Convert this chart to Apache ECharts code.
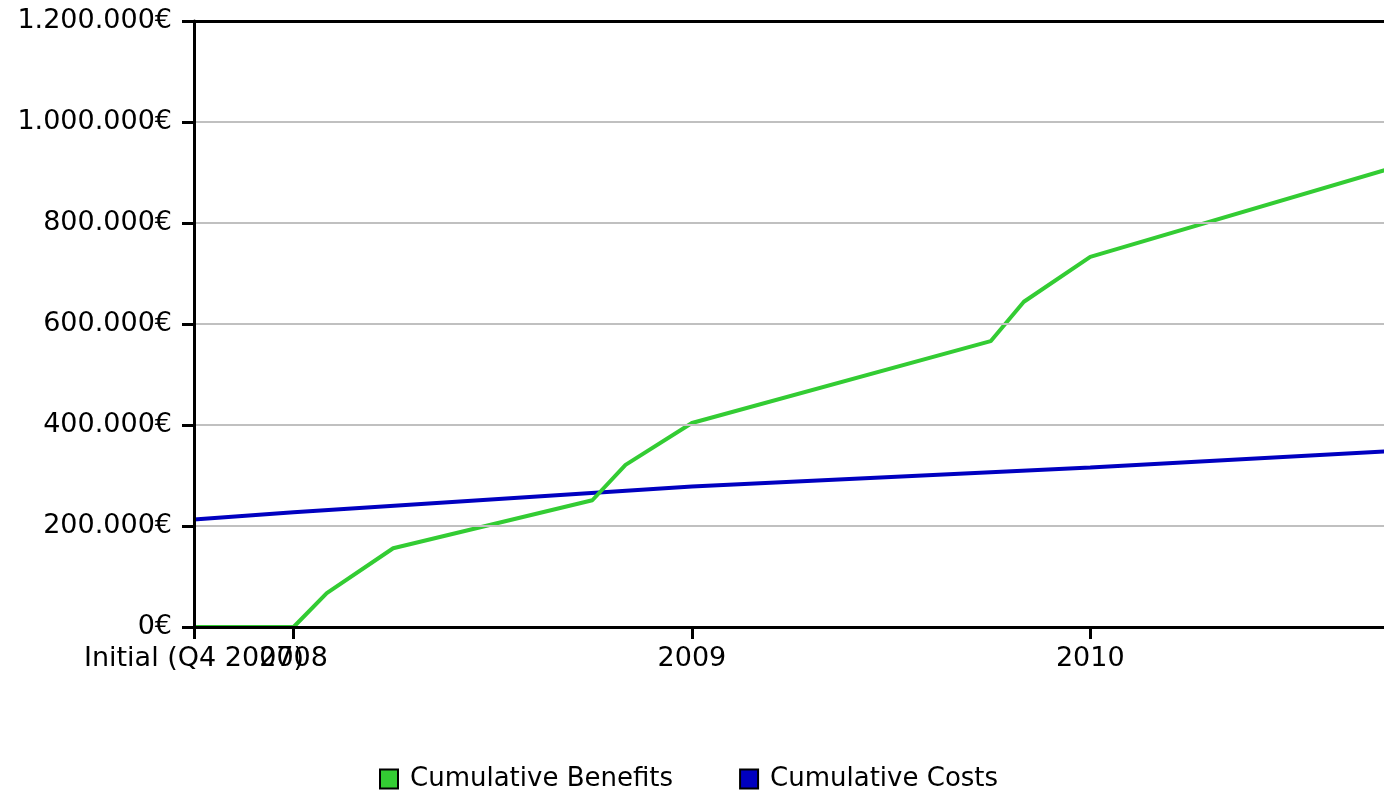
<!DOCTYPE html>
<html>
<head>
<meta charset="utf-8">
<title>Cumulative Benefits vs Costs</title>
<script src="https://cdn.jsdelivr.net/npm/echarts@6/dist/echarts.min.js"></script>
<style>
  html, body { margin: 0; padding: 0; background: #ffffff; }
  #chart { width: 1384px; height: 790px; }
</style>
</head>
<body>
<div id="chart"></div>
<script>
// Months counted from the initial period (Q4 2007 = 0, Jan 2008 = 3)
const benefitMonths = [0, 3, 4, 6, 12, 13, 15, 24, 25, 27, 36];
const benefitValues = [0, 0, 67000, 156000, 251000, 321000, 404000, 566000, 644000, 733000, 907000];

const costMonths = [0, 3, 15, 27, 36];
const costValues = [213000, 227000, 278000, 316000, 348000];

// Labelled positions on the time axis
const initialMonth = [0];
const initialLabel = ['Initial (Q4 2007)'];
const yearMonths = [3, 15, 27];
const yearLabels = ['2008', '2009', '2010'];

const seriesNames = ['Cumulative Benefits', 'Cumulative Costs'];

const pair = (xs, ys) => xs.map((x, i) => [x, ys[i]]);

function euro(v) {
  return String(Math.round(v)).replace(/\B(?=(\d{3})+(?!\d))/g, '.') + '€';
}

const FONT = 'DejaVu Sans';
const FONT_SIZE = 27;

function labelAxis(values, labels, showLine) {
  return {
    type: 'value',
    position: 'bottom',
    min: 0,
    max: 36,
    axisLine: { show: showLine, onZero: false, lineStyle: { color: '#000000', width: 3 } },
    axisTick: {
      show: true,
      customValues: values,
      length: 12,
      lineStyle: { color: '#000000', width: 3 }
    },
    axisLabel: {
      customValues: values,
      showMinLabel: true,
      showMaxLabel: true,
      hideOverlap: false,
      margin: 18,
      fontFamily: FONT,
      fontSize: FONT_SIZE,
      color: '#000000',
      formatter: (v) => {
        const i = values.indexOf(v);
        return i >= 0 ? labels[i] : '';
      }
    },
    splitLine: { show: false },
    z: 5
  };
}

const chart = echarts.init(document.getElementById('chart'), null, { renderer: 'canvas' });

chart.setOption({
  animation: false,
  backgroundColor: '#ffffff',
  textStyle: { fontFamily: FONT },
  // plot area runs a few pixels past the right edge of the canvas
  grid: {
    left: 194,
    top: 21,
    width: 1195,
    bottom: 163,
    show: false,
    outerBoundsMode: 'none'
  },
  legend: {
    bottom: -7,
    left: 374,
    icon: 'rect',
    itemWidth: 18,
    itemHeight: 19,
    itemGap: 66,
    itemStyle: { borderColor: '#000000', borderWidth: 2 },
    textStyle: {
      fontFamily: FONT,
      fontSize: 26,
      color: '#000000',
      padding: [0, 0, 0, 7]
    },
    data: seriesNames
  },
  xAxis: [
    labelAxis(yearMonths, yearLabels, true),
    labelAxis(initialMonth, initialLabel, false),
    {
      // top border of the plot
      type: 'value',
      position: 'top',
      min: 0,
      max: 36,
      axisLine: { show: true, onZero: false, lineStyle: { color: '#000000', width: 3 } },
      axisTick: { show: false },
      axisLabel: { show: false },
      splitLine: { show: false },
      z: 5
    }
  ],
  yAxis: {
    type: 'value',
    min: 0,
    max: 1200000,
    interval: 200000,
    axisLine: { show: true, lineStyle: { color: '#000000', width: 3 } },
    axisTick: { show: true, length: 12, lineStyle: { color: '#000000', width: 3 } },
    axisLabel: {
      margin: 22,
      fontFamily: FONT,
      fontSize: FONT_SIZE,
      color: '#000000',
      formatter: euro
    },
    splitLine: { show: true, lineStyle: { color: '#c0c0c0', width: 2 } },
    z: 5
  },
  series: [
    {
      name: seriesNames[0],
      type: 'line',
      data: pair(benefitMonths, benefitValues),
      showSymbol: false,
      symbol: 'none',
      color: '#33cc33',
      lineStyle: { color: '#33cc33', width: 4 },
      z: 4
    },
    {
      name: seriesNames[1],
      type: 'line',
      data: pair(costMonths, costValues),
      showSymbol: false,
      symbol: 'none',
      color: '#0000c0',
      lineStyle: { color: '#0000c0', width: 4 },
      z: 3
    }
  ]
});
</script>
</body>
</html>
